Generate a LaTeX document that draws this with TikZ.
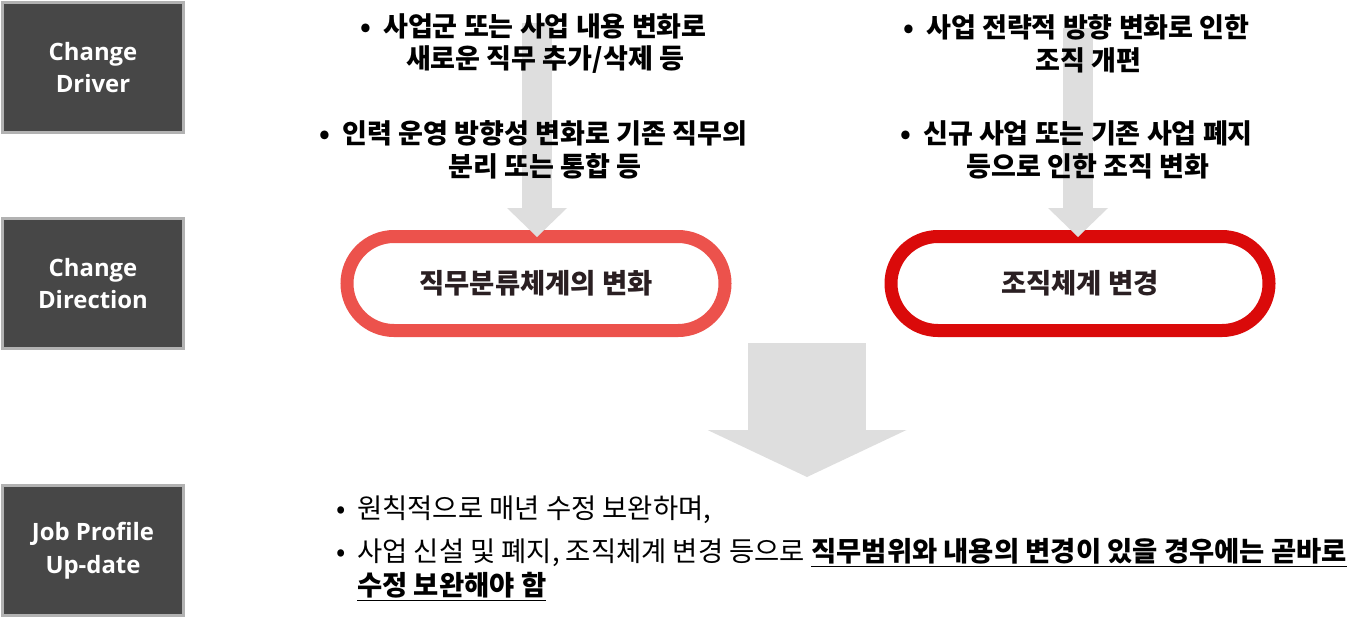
\documentclass[tikz,border=0pt]{standalone}
\usepackage{fontspec}
\setmainfont{Noto Sans CJK KR}
\newfontfamily\boxfont{Open Sans}
\usepackage{tikz}
\usetikzlibrary{positioning, arrows.meta, calc}
\definecolor{boxGray}{HTML}{474747}
\definecolor{boxEdge}{HTML}{B2B2B2}
\definecolor{flowGray}{HTML}{DEDEDE}
\definecolor{pillRed}{HTML}{EC524C}
\definecolor{pillDeep}{HTML}{DA0A0A}
\definecolor{pillText}{HTML}{2A1F22}

\begin{document}
\begin{tikzpicture}[
  side/.style={fill=boxGray, draw=boxEdge, line width=0.06cm, minimum width=3.6cm,
    minimum height=2.6cm, text=white, align=center,
    font=\boxfont\bfseries\fontsize{13.6}{18.7}\selectfont},
  cause/.style={align=center, font=\bfseries\fontsize{15.4}{18.7}\selectfont},
  pill/.style={fill=white, line width=0.26cm, rounded corners=0.94cm, minimum width=7.56cm,
    minimum height=1.88cm, text=pillText, font=\bfseries\fontsize{15.6}{18}\selectfont},
  flow/.style={draw=flowGray, line width=0.6cm,
    -{Triangle[length=0.58cm, width=1.2cm, line width=0pt]}},
  bigflow/.style={draw=flowGray, line width=2.36cm,
    -{Triangle[length=0.94cm, width=3.98cm, line width=0pt]}},
  upd/.style={anchor=west, align=left, font=\fontsize{15.6}{19.3}\selectfont},
]
  \useasboundingbox (0,0) rectangle (27.34,-12.38);

  \node[side] (driver)    at (1.86,-1.35)  {Change\\Driver};
  \node[side] (direction) at (1.86,-5.67)  {Change\\Direction};
  \node[side] (update)    at (1.86,-11.01) {Job Profile\\Up-date};

  \node[pill, draw=pillRed]  (jobpill) at (10.72,-5.67) {직무분류체계의 변화};
  \node[pill, draw=pillDeep] (orgpill) at (21.6,-5.67)  {조직체계 변경};

  \coordinate (srcA) at (10.74,-0.46);
  \coordinate (srcB) at (21.56,-0.56);
  \draw[flow] (srcA) -- ([yshift=-0.14cm]srcA |- jobpill.north);
  \draw[flow] (srcB) -- ([yshift=-0.14cm]srcB |- orgpill.north);

  \node[cause] (drvA) at (10.9,-0.87)
    {\llap{•\hspace{0.45em}}사업군 또는 사업 내용 변화로\\새로운 직무 추가/삭제 등};
  \node[cause] (drvB) at (10.9,-3.0)
    {\llap{•\hspace{0.45em}}인력 운영 방향성 변화로 기존 직무의\\분리 또는 통합 등};
  \node[cause] (drvC) at (21.76,-0.87)
    {\llap{•\hspace{0.45em}}사업 전략적 방향 변화로 인한\\조직 개편};
  \node[cause] (drvD) at (21.76,-3.0)
    {\llap{•\hspace{0.45em}}신규 사업 또는 기존 사업 폐지\\등으로 인한 조직 변화};

  \coordinate (drop) at (16.14,-6.86);
  \coordinate (land) at (16.14,-9.54);
  \draw[bigflow] (drop) -- (land);

  \node[upd] (updA) at (6.6,-10.2)
    {\makebox[0.42cm][l]{•}원칙적으로 매년 수정 보완하며,};
  \node[upd] (updB) at (6.6,-11.4)
    {\makebox[0.42cm][l]{•}사업 신설 및 폐지, 조직체계 변경 등으로 \textbf{\underline{직무범위와 내용의 변경이 있을 경우에는 곧바로}}\\
     \hspace*{0.42cm}\textbf{\underline{수정 보완해야 함}}};
\end{tikzpicture}
\end{document}
